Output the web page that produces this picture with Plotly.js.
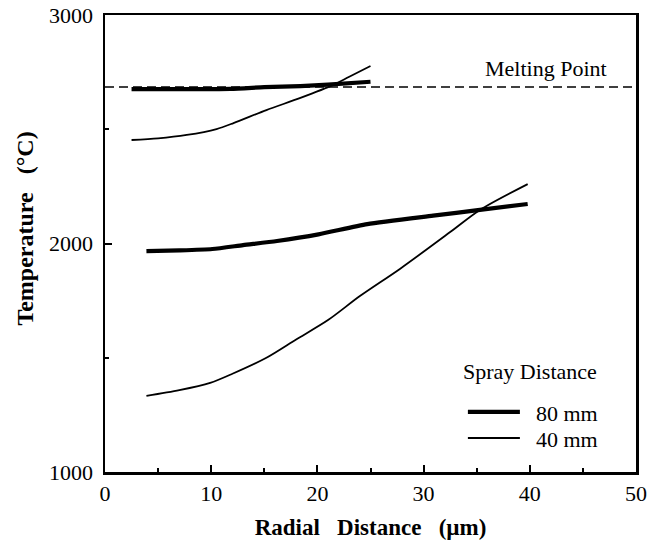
<!DOCTYPE html>
<html>
<head>
<meta charset="utf-8">
<script src="https://cdn.plot.ly/plotly-3.0.1.min.js"></script>
<style>html,body{margin:0;padding:0;background:#fff;}#chart{width:658px;height:546px;}</style>
</head>
<body>
<div id="chart"></div>
<script>
// Data
const upper80_x = [2.5, 6, 11.8, 15, 18.4, 21, 25];
const upper80_y = [2676, 2676, 2677, 2684, 2689, 2695, 2708];

const upper40_x = [2.5, 5, 7.7, 10.5, 12.1, 15.2, 18.4, 21.5, 23, 25];
const upper40_y = [2453, 2460, 2475, 2501, 2527, 2584, 2637, 2694, 2730, 2777];

const lower80_x = [3.9, 7, 10.1, 13, 16.2, 20.1, 24.7, 30.9, 35.3, 39.8];
const lower80_y = [1967, 1970, 1976, 1993, 2011, 2040, 2085, 2122, 2147, 2173];

const lower40_x = [3.9, 7, 9.9, 12, 15.2, 18, 21, 24, 27.8, 32.5, 35.3, 39.8];
const lower40_y = [1333, 1358, 1390, 1430, 1500, 1580, 1665, 1770, 1890, 2050, 2147, 2260];

const meltX = [0, 50];
const meltingPoint = 2685;

const xTicks = [0, 10, 20, 30, 40, 50];
const yTicks = [1000, 2000, 3000];

const serif = '"Liberation Serif", "Times New Roman", serif';
const pad = '&nbsp;&nbsp;';

const traces = [
  {x: meltX, y: meltX.map(() => meltingPoint), mode: 'lines', showlegend: false,
   line: {color: '#000', width: 1.7, dash: '9px,5px'}, hoverinfo: 'skip'},
  {x: upper80_x, y: upper80_y, mode: 'lines', name: pad + '80 mm', legend: 'legend',
   line: {color: '#000', width: 4.2, shape: 'spline', smoothing: 0.6}},
  {x: upper40_x, y: upper40_y, mode: 'lines', name: pad + '40 mm', legend: 'legend2',
   line: {color: '#000', width: 1.8, shape: 'spline', smoothing: 0.8}},
  {x: lower80_x, y: lower80_y, mode: 'lines', name: '80 mm', showlegend: false,
   line: {color: '#000', width: 4.2, shape: 'spline', smoothing: 0.6}},
  {x: lower40_x, y: lower40_y, mode: 'lines', name: '40 mm', showlegend: false,
   line: {color: '#000', width: 1.8, shape: 'spline', smoothing: 0.8}}
];

const legendCommon = {
  xanchor: 'left', yanchor: 'middle',
  bgcolor: 'rgba(0,0,0,0)', borderwidth: 0,
  font: {family: serif, size: 22, color: '#000'},
  itemwidth: 52
};

const layout = {
  width: 658, height: 546,
  margin: {l: 105, r: 22, t: 15, b: 74},
  paper_bgcolor: '#fff', plot_bgcolor: '#fff',
  font: {family: serif, color: '#000', size: 22},
  showlegend: true,
  legend: Object.assign({x: 0.674, y: 0.131}, legendCommon),
  legend2: Object.assign({x: 0.674, y: 0.074}, legendCommon),
  xaxis: {
    range: [0, 50], tickvals: xTicks, ticktext: xTicks.map(String),
    showgrid: false, zeroline: false,
    showline: true, linecolor: '#000', linewidth: 2.5, mirror: true,
    ticks: 'inside', ticklen: 7, tickwidth: 2, tickcolor: '#000',
    minor: {dtick: 5, tick0: 0, ticks: 'inside', ticklen: 4, tickwidth: 2, tickcolor: '#000', showgrid: false},
    tickfont: {family: serif, size: 22},
    ticklabelstandoff: 0,
    title: {text: 'Radial&nbsp;&nbsp;&nbsp;Distance&nbsp;&nbsp;&nbsp;(µm)', font: {family: serif, size: 23, weight: 'bold'}, standoff: 14}
  },
  yaxis: {
    range: [1000, 3000], tickvals: yTicks, ticktext: yTicks.map(String),
    showgrid: false, zeroline: false,
    showline: true, linecolor: '#000', linewidth: 2.5, mirror: true,
    ticks: 'inside', ticklen: 7, tickwidth: 2, tickcolor: '#000',
    minor: {dtick: 500, tick0: 1000, ticks: 'inside', ticklen: 4, tickwidth: 2, tickcolor: '#000', showgrid: false},
    tickfont: {family: serif, size: 22},
    ticklabelstandoff: 5,
    title: {text: '&nbsp;&nbsp;&nbsp;&nbsp;&nbsp;Temperature&nbsp;&nbsp;&nbsp;(°C)', font: {family: serif, size: 24, weight: 'bold'}, standoff: 9}
  },
  annotations: [
    {x: 41.5, y: 2768, xref: 'x', yref: 'y', text: 'Melting Point', showarrow: false,
     font: {family: serif, size: 22, color: '#000'}},
    {x: 40.0, y: 1440, xref: 'x', yref: 'y', text: 'Spray Distance', showarrow: false,
     font: {family: serif, size: 22, color: '#000'}}
  ]
};

Plotly.newPlot('chart', traces, layout, {displayModeBar: false, staticPlot: true});
</script>
</body>
</html>
